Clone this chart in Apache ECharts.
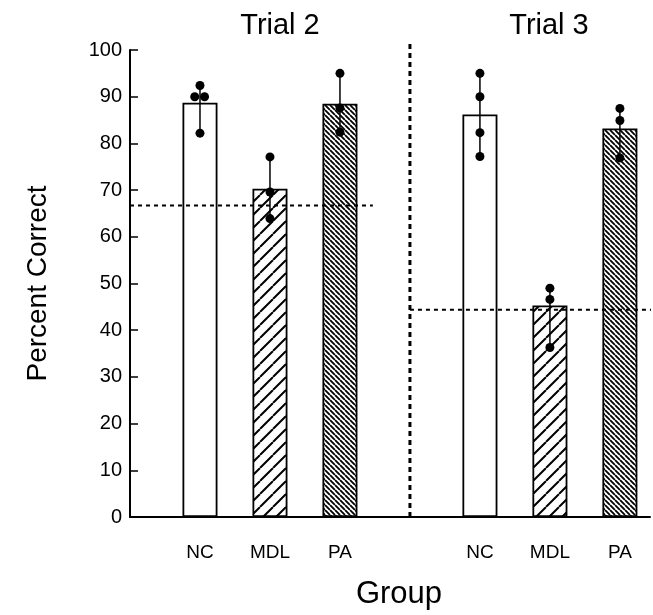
<!DOCTYPE html>
<html>
<head>
<meta charset="utf-8">
<script src="https://cdn.jsdelivr.net/npm/echarts@6/dist/echarts.min.js"></script>
<style>
html,body{margin:0;padding:0;background:#fff;}
#chart{width:653px;height:615px;}
</style>
</head>
<body>
<div id="chart"></div>
<script>
// ---- data ----
const groups = ['NC', 'MDL', 'PA'];
const trials = ['Trial 2', 'Trial 3'];
const meanTrial2 = [88.7, 70.3, 88.5];
const meanTrial3 = [86.2, 45.3, 83.2];
const pointsTrial2 = [[92.4, 90.0, 90.0, 82.2], [77.1, 69.6, 63.9], [95.0, 87.6, 82.4]];
const pointsTrial3 = [[95.0, 90.0, 82.3, 77.2], [49.0, 46.6, 36.3], [87.5, 84.9, 76.9]];
const chanceLevels = [66.7, 44.4];
const yMin = 0, yMax = 100, yStep = 10;

// ---- helpers ----
function hatch(size, dir, lw) {
  const c = document.createElement('canvas');
  c.width = size; c.height = size;
  const ctx = c.getContext('2d');
  ctx.fillStyle = '#fff'; ctx.fillRect(0, 0, size, size);
  ctx.strokeStyle = '#000'; ctx.lineWidth = lw;
  ctx.beginPath();
  for (let k = -1; k <= 1; k++) {
    const x0 = k * size;
    if (dir === '/') { ctx.moveTo(x0, size); ctx.lineTo(x0 + size, 0); }
    else { ctx.moveTo(x0, 0); ctx.lineTo(x0 + size, size); }
  }
  ctx.stroke();
  return c;
}
const fills = [
  '#ffffff',
  { image: hatch(13, '/', 2), repeat: 'repeat' },
  { image: hatch(5, '\\', 1.8), repeat: 'repeat' }
];

const means = [meanTrial2, meanTrial3];
const points = [pointsTrial2, pointsTrial3];
const slot = (t, g) => t * 4 + g;

const barData = [], dotData = [], errorSeries = [];
means.forEach((m, t) => m.forEach((v, g) => {
  barData.push({ value: [slot(t, g), v], itemStyle: { color: fills[g] } });
  const pts = points[t][g];
  errorSeries.push({
    type: 'line', data: [[slot(t, g), Math.min(...pts)], [slot(t, g), Math.max(...pts)]],
    showSymbol: false, symbol: 'none', z: 4, silent: true,
    lineStyle: { color: '#000', width: 1.5 }
  });
  const seen = {};
  pts.forEach(p => {
    const n = pts.filter(q => q === p).length;
    let off = 0;
    if (n > 1) { seen[p] = (seen[p] || 0) + 1; off = (seen[p] === 1 ? -0.075 : 0.065); }
    dotData.push([slot(t, g) + off, p]);
  });
}));
const chanceSeries = chanceLevels.map((c, t) => ({
  type: 'line', data: [[t * 4 - 1, c], [t * 4 + 2.47, c]],
  showSymbol: false, symbol: 'none', z: 3, silent: true,
  lineStyle: { color: '#000', width: 2, type: [4, 4] }
}));

const FONT = '"Liberation Sans", Arial, sans-serif';
const chart = echarts.init(document.getElementById('chart'));
chart.setOption({
  animation: false,
  backgroundColor: '#fff',
  grid: { left: 130, right: 3, top: 50, bottom: 94 },
  xAxis: {
    type: 'value', min: -1, max: 6.43, interval: 1,
    splitLine: { show: false },
    axisTick: { show: false },
    axisLine: { onZero: false, lineStyle: { color: '#000', width: 2 } },
    axisLabel: {
      color: '#000', fontSize: 19, fontFamily: FONT, margin: 26,
      showMinLabel: false, showMaxLabel: false,
      formatter: v => {
        const i = Math.round(v);
        if (Math.abs(v - i) > 1e-6 || i < 0) return '';
        const g = i % 4;
        return g < 3 ? groups[g] : '';
      }
    },
    name: 'Group', nameLocation: 'middle', nameGap: 62,
    nameTextStyle: { color: '#000', fontSize: 31, fontFamily: FONT, padding: [0, 0, 0, 18] }
  },
  yAxis: {
    type: 'value', min: yMin, max: yMax, interval: yStep,
    splitLine: { show: false },
    axisLine: { show: true, onZero: false, lineStyle: { color: '#000', width: 2 } },
    axisTick: { show: true, inside: true, length: 8, lineStyle: { color: '#000', width: 1.5 } },
    axisLabel: { color: '#000', fontSize: 20, fontFamily: FONT, margin: 8 },
    name: 'Percent Correct', nameLocation: 'middle', nameGap: 78, nameRotate: 90,
    nameTextStyle: { color: '#000', fontSize: 28, fontFamily: FONT }
  },
  graphic: [
    { type: 'text', x: 280, y: 26, style: { text: trials[0], fontSize: 29, fontFamily: FONT, fill: '#000', align: 'center', verticalAlign: 'middle' } },
    { type: 'text', x: 549, y: 26, style: { text: trials[1], fontSize: 29, fontFamily: FONT, fill: '#000', align: 'center', verticalAlign: 'middle' } }
  ],
  series: [
    {
      type: 'bar', data: barData, barWidth: 35,
      itemStyle: { borderColor: '#000', borderWidth: 1.8 }, z: 2
    },
    ...chanceSeries,
    {
      type: 'custom', data: [[3, yMin, yMax]], z: 3, silent: true, clip: false,
      encode: { x: 0, y: [1, 2] },
      renderItem: (params, api) => {
        const a = api.coord([api.value(0), api.value(1)]);
        const b = api.coord([api.value(0), api.value(2)]);
        return { type: 'line', shape: { x1: a[0], y1: a[1], x2: b[0], y2: b[1] - 6 },
          style: { stroke: '#000', lineWidth: 3, lineDash: [5, 4] } };
      }
    },
    ...errorSeries,
    {
      type: 'scatter', data: dotData, symbol: 'circle', symbolSize: 9,
      itemStyle: { color: '#000', opacity: 1 }, z: 5, silent: true
    }
  ]
});
</script>
</body>
</html>
